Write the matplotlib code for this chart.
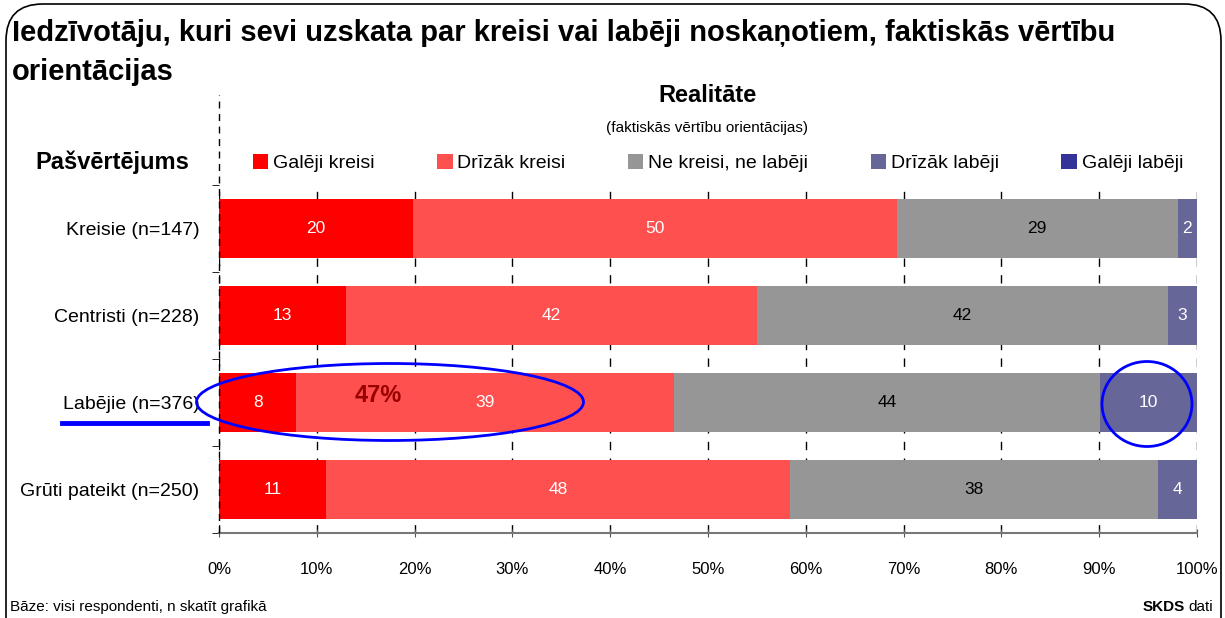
import matplotlib
matplotlib.use("Agg")
import matplotlib.pyplot as plt
import numpy as np
from matplotlib.patches import Ellipse, FancyBboxPatch
from matplotlib.lines import Line2D
from matplotlib import font_manager

# data
groups = ["Kreisie (n=147)", "Centristi (n=228)", "Labējie (n=376)", "Grūti pateikt (n=250)"]
series = ["Galēji kreisi", "Drīzāk kreisi", "Ne kreisi, ne labēji", "Drīzāk labēji", "Galēji labēji"]
galeji_kreisi = [20, 13, 8, 11]
drizak_kreisi = [50, 42, 39, 48]
ne_kreisi = [29, 42, 44, 38]
drizak_labeji = [2, 3, 10, 4]
galeji_labeji = [0, 0, 0, 0]
xticks = [0, 10, 20, 30, 40, 50, 60, 70, 80, 90, 100]

colors = ["#FF0000", "#FF5050", "#969696", "#666699", "#333399"]
txt_colors = ["white", "white", "black", "white", "white"]

names = {f.name for f in font_manager.fontManager.ttflist}
fam = [f for f in ["Liberation Sans Narrow", "Liberation Sans", "DejaVu Sans"] if f in names]
plt.rcParams["font.family"] = fam

W, H = 1225, 618
fig = plt.figure(figsize=(W / 100, H / 100), dpi=100)

def fx(x):
    return x / W

def fy(y):
    return 1 - y / H

# rounded frame (bottom edge is outside the picture)
frame = FancyBboxPatch((fx(6), fy(660)), fx(1221) - fx(6), fy(4) - fy(660),
                       boxstyle="round,pad=0,rounding_size=0.03",
                       transform=fig.transFigure, fill=False, ec="black", lw=1.2,
                       mutation_aspect=W / H)
fig.patches.append(frame)

ax = fig.add_axes([fx(219), fy(533), fx(1197) - fx(219), fy(185) - fy(533)])

data = np.array([galeji_kreisi, drizak_kreisi, ne_kreisi, drizak_labeji, galeji_labeji], dtype=float)
pct = data / data.sum(axis=0) * 100
y = np.arange(len(groups))
left = np.zeros(len(groups))
for i in range(len(series)):
    ax.barh(y, pct[i], left=left, height=0.68, color=colors[i], label=series[i], zorder=2)
    for j in range(len(groups)):
        if data[i, j] > 0:
            ax.text(left[j] + pct[i, j] / 2, y[j], "%d" % data[i, j], ha="center", va="center",
                    color=txt_colors[i], fontsize=12.5, zorder=3)
    left += pct[i]

ax.set_xlim(0, 100)
ax.set_ylim(len(groups) - 0.5, -0.5)
ax.set_xticks(xticks)
ax.set_xticklabels(["%d%%" % t for t in xticks], fontsize=12)
ax.tick_params(axis="x", length=6, direction="inout", color="#555555", pad=18)
ax.set_yticks(y)
ax.set_yticklabels(groups, fontsize=14)
ax.tick_params(axis="y", length=0, pad=14)
ax.set_yticks(np.arange(-0.5, len(groups), 1), minor=True)
ax.tick_params(axis="y", which="minor", length=5, color="black")
ax.grid(axis="x", color="black", linestyle=(0, (6, 6)), lw=1, zorder=1)
for s in ["top", "right", "left"]:
    ax.spines[s].set_visible(False)
ax.spines["bottom"].set_color("#777777")
ax.spines["bottom"].set_linewidth(1.5)
ax.axvline(0, ymin=0, ymax=1.26, color="black", ls=(0, (5, 4)), lw=1, clip_on=False, zorder=4)

# legend
leg = fig.legend(loc="center left", bbox_to_anchor=(fx(245), fy(163)), ncol=5, frameon=False,
                 fontsize=14, handlelength=0.8, handleheight=0.8, handletextpad=0.25,
                 columnspacing=3.2, borderaxespad=0)

# texts
fig.text(fx(12), fy(33), "Iedzīvotāju, kuri sevi uzskata par kreisi vai labēji noskaņotiem, faktiskās vērtību",
         fontsize=21, fontweight="bold", ha="left", va="center")
fig.text(fx(12), fy(72), "orientācijas", fontsize=21, fontweight="bold", ha="left", va="center")
fig.text(fx(707), fy(95), "Realitāte", fontsize=17, fontweight="bold", ha="center", va="center")
fig.text(fx(707), fy(128), "(faktiskās vērtību orientācijas)", fontsize=11, ha="center", va="center")
fig.text(fx(112), fy(162), "Pašvērtējums", fontsize=17, fontweight="bold", ha="center", va="center")
fig.text(fx(10), fy(607), "Bāze: visi respondenti, n skatīt grafikā", fontsize=11, ha="left", va="center")
fig.text(fx(1185), fy(607), "SKDS", fontsize=11, fontweight="bold", ha="right", va="center")
fig.text(fx(1188), fy(607), "dati", fontsize=11, ha="left", va="center")

# highlights
ax.text(16.3, 2 - 0.08, "47%", fontsize=17, fontweight="bold", color="#990000", ha="center", va="center", zorder=5)
fig.patches.append(Ellipse((fx(390), fy(402)), fx(387), fx(77) * W / H, transform=fig.transFigure,
                           fill=False, ec="#0000FF", lw=2))
fig.patches.append(Ellipse((fx(1147), fy(404)), fx(90), fx(85) * W / H, transform=fig.transFigure,
                           fill=False, ec="#0000FF", lw=2))
fig.lines.append(Line2D([fx(62), fx(207)], [fy(423), fy(423)], transform=fig.transFigure,
                        color="#0000FF", lw=3.5))

fig.savefig("out.png", dpi=100)
